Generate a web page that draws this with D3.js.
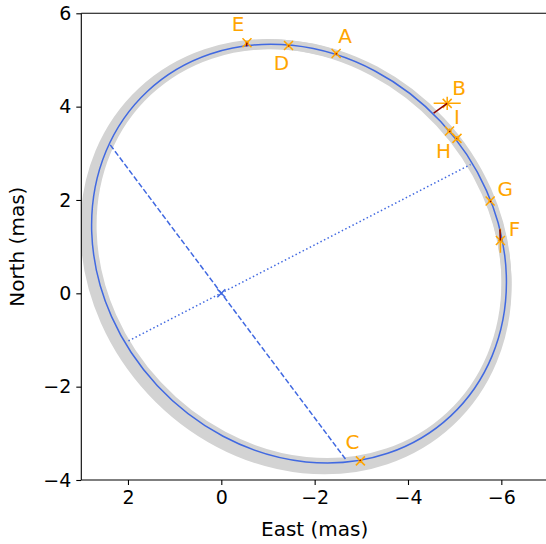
<!DOCTYPE html>
<html>
<head>
<meta charset="utf-8">
<script src="https://cdn.jsdelivr.net/npm/d3@7"></script>
<style>
  html, body { margin: 0; padding: 0; background: #fff; }
  svg { display: block; }
  text { font-family: "DejaVu Sans", sans-serif; }
</style>
</head>
<body>
<script>
// ---------------- data ----------------
const xTicks = [2, 0, -2, -4, -6];
const yTicks = [-4, -2, 0, 2, 4, 6];

// apparent orbit ellipse: centre (East, North), semi-axes (mas), position angle of major axis (deg, from East toward North)
const orbitCenter = [-1.665, 0.85];
const orbitAxes   = [4.76, 4.15];
const orbitAngle  = 47;

// outer edge of the uncertainty band (second ellipse)
const bandCenter = [-1.60, 0.785];
const bandAxes   = [4.83, 4.22];
const bandAngle  = 47;

// observations
const obsLabels = ["A", "B", "C", "D", "E", "F", "G", "H", "I"];
const obsEast   = [-2.46, -4.84, -2.98, -1.44, -0.55, -5.98, -5.76, -4.89, -5.05];
const obsNorth  = [5.14, 4.07, -3.59, 5.31, 5.37, 1.13, 1.98, 3.48, 3.32];
const obsErrE   = [0.04, 0.29, 0.04, 0.04, 0.04, 0.05, 0.04, 0.05, 0.05];
const obsErrN   = [0.04, 0.14, 0.04, 0.04, 0.04, 0.26, 0.04, 0.05, 0.05];
// model positions at the observation epochs
const modEast   = [-2.47, -4.55, -2.97, -1.45, -0.54, -5.97, -5.78, -4.90, -5.04];
const modNorth  = [5.12, 3.86, -3.57, 5.29, 5.29, 1.37, 1.96, 3.46, 3.31];

// line of apsides and line of nodes end points (East, North)
const apsidesEast  = [2.38, -2.66];
const apsidesNorth = [3.18, -3.55];
const nodesEast    = [1.99, -5.34];
const nodesNorth   = [-1.02, 2.76];

// ---------------- layout ----------------
const W = 546, H = 544;
const mL = 81.3, mR = 548, mT = 13.3, mB = 480;
const orange = "#FFA500", blue = "#4169E1", gray = "#D3D3D3", dred = "#8B0000";

const svg = d3.select("body").append("svg").attr("width", W).attr("height", H);

const x = d3.scaleLinear().domain([3, -7]).range([mL, mR]);
const y = d3.scaleLinear().domain([-4, 6]).range([mB, mT]);

svg.append("defs").append("clipPath").attr("id", "clip")
  .append("rect").attr("x", mL).attr("y", mT).attr("width", mR - mL).attr("height", mB - mT);

const plot = svg.append("g").attr("clip-path", "url(#clip)");

function drawEllipse(center, axes, angle) {
  const cx = x(center[0]), cy = y(center[1]);
  const rx = Math.abs(x(axes[0]) - x(0)), ry = Math.abs(y(axes[1]) - y(0));
  // East axis is reversed and North axis points up, so the on-screen rotation keeps the same sign
  return plot.append("ellipse").attr("cx", cx).attr("cy", cy).attr("rx", rx).attr("ry", ry)
    .attr("transform", `rotate(${angle},${cx},${cy})`).attr("fill", "none");
}

// uncertainty band
drawEllipse(orbitCenter, orbitAxes, orbitAngle).attr("stroke", gray).attr("stroke-width", 10);
drawEllipse(bandCenter, bandAxes, bandAngle).attr("stroke", gray).attr("stroke-width", 10);

// apsides (dashed) and nodes (dotted)
plot.append("line")
  .attr("x1", x(apsidesEast[0])).attr("y1", y(apsidesNorth[0]))
  .attr("x2", x(apsidesEast[1])).attr("y2", y(apsidesNorth[1]))
  .attr("stroke", blue).attr("stroke-width", 1.5).attr("stroke-dasharray", "5.5,2.4");
plot.append("line")
  .attr("x1", x(nodesEast[0])).attr("y1", y(nodesNorth[0]))
  .attr("x2", x(nodesEast[1])).attr("y2", y(nodesNorth[1]))
  .attr("stroke", blue).attr("stroke-width", 1.5).attr("stroke-dasharray", "1.5,2.5");

// orbit
drawEllipse(orbitCenter, orbitAxes, orbitAngle).attr("stroke", blue).attr("stroke-width", 1.5);

// primary at origin
const cx0 = x(0), cy0 = y(0), ms = 4;
plot.append("path")
  .attr("d", `M${cx0 - ms},${cy0 - ms}L${cx0 + ms},${cy0 + ms}M${cx0 - ms},${cy0 + ms}L${cx0 + ms},${cy0 - ms}`)
  .attr("stroke", blue).attr("stroke-width", 1.5).attr("fill", "none");

// observations
const labelOffset = { A: [9, -17], B: [12, -15], C: [-8, -19], D: [-7, 17], E: [-9, -19], F: [14, -12], G: [15, -12], H: [-6, 20], I: [0, -21] };
obsLabels.forEach((lab, i) => {
  const px = x(obsEast[i]), py = y(obsNorth[i]);
  const g = plot.append("g");
  g.append("line").attr("x1", x(obsEast[i] + obsErrE[i])).attr("x2", x(obsEast[i] - obsErrE[i]))
    .attr("y1", py).attr("y2", py).attr("stroke", orange).attr("stroke-width", 1.5);
  g.append("line").attr("x1", px).attr("x2", px)
    .attr("y1", y(obsNorth[i] + obsErrN[i])).attr("y2", y(obsNorth[i] - obsErrN[i]))
    .attr("stroke", orange).attr("stroke-width", 1.5);
  const s = 4.5;
  g.append("path")
    .attr("d", `M${px - s},${py - s}L${px + s},${py + s}M${px - s},${py + s}L${px + s},${py - s}`)
    .attr("stroke", orange).attr("stroke-width", 1.5).attr("fill", "none");
  g.append("line").attr("x1", px).attr("y1", py).attr("x2", x(modEast[i])).attr("y2", y(modNorth[i]))
    .attr("stroke", dred).attr("stroke-width", 1.5);
  const off = labelOffset[lab];
  svg.append("text").attr("x", px + off[0]).attr("y", py + off[1])
    .attr("text-anchor", "middle").attr("dominant-baseline", "central")
    .attr("fill", orange).attr("font-size", 20).text(lab);
});

// ---------------- axes ----------------
const fmt = d3.format("");
const xAxis = d3.axisBottom(x).tickValues(xTicks).tickSize(5).tickPadding(6).tickFormat(fmt);
const yAxis = d3.axisLeft(y).tickValues(yTicks).tickSize(5).tickPadding(5).tickFormat(fmt);

const gx = svg.append("g").attr("transform", `translate(0,${mB})`).call(xAxis);
const gy = svg.append("g").attr("transform", `translate(${mL},0)`).call(yAxis);
[gx, gy].forEach(g => {
  g.select(".domain").remove();
  g.selectAll(".tick line").attr("stroke", "#000").attr("stroke-width", 1.1);
  g.selectAll(".tick text").attr("fill", "#000").attr("font-size", 19).attr("font-family", "DejaVu Sans, sans-serif");
});

// spines
const spine = (x1, y1, x2, y2) => svg.append("line").attr("x1", x1).attr("y1", y1).attr("x2", x2).attr("y2", y2)
  .attr("stroke", "#000").attr("stroke-width", 1.1);
spine(mL, mT, mL, mB);
spine(mL, mB, mR, mB);
spine(mL, mT, mR, mT);
spine(mR, mT, mR, mB);

// axis labels
svg.append("text").attr("x", (mL + mR) / 2).attr("y", 536).attr("text-anchor", "middle")
  .attr("font-size", 20).attr("fill", "#000").text("East (mas)");
svg.append("text").attr("transform", `translate(24,${(mT + mB) / 2}) rotate(-90)`).attr("text-anchor", "middle")
  .attr("font-size", 20).attr("fill", "#000").text("North (mas)");
</script>
</body>
</html>
